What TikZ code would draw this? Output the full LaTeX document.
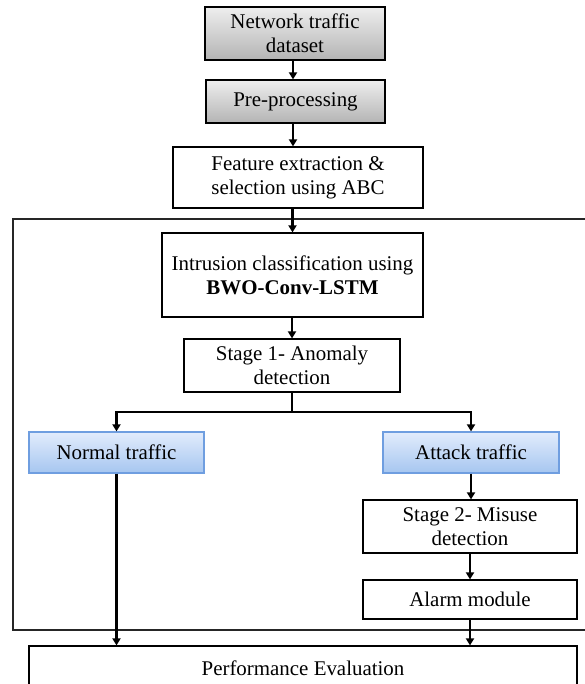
\documentclass[tikz,border=0pt]{standalone}
\usepackage{fontspec}
\setmainfont{Liberation Serif}
\usetikzlibrary{arrows.meta,shadows}
\definecolor{grtop}{HTML}{EEEEEE}
\definecolor{grbot}{HTML}{B4B4B4}
\definecolor{bltop}{HTML}{E2ECFC}
\definecolor{blbot}{HTML}{A6C6F0}
\definecolor{blline}{HTML}{6F9EE0}
\tikzset{
  box/.style={draw=black, line width=1.2bp, align=center, inner sep=0pt,
    fill=white, font=\fontsize{21}{24}\selectfont,
    drop shadow={shadow xshift=1.4bp, shadow yshift=-1.4bp, fill=black!45, opacity=0.8}},
  graybox/.style={box, top color=grtop, bottom color=grbot},
  bluebox/.style={box, draw=blline, top color=bltop, bottom color=blbot},
  arr/.style={line width=2.2bp, -{Triangle[length=7bp,width=8bp]}},
  ln/.style={line width=2.2bp}
}
\begin{document}
\begin{tikzpicture}[x=1bp,y=-1bp]
\useasboundingbox (0,0) rectangle (585,684);
\clip (0,0) rectangle (585,684);
% outer frame
\draw[line width=1.3bp, black!85] (13,219) rectangle (600,630);
\node[graybox, minimum width=180bp, minimum height=53bp] (b1) at (295,33.5) {Network traffic\\dataset};
\node[graybox, minimum width=179bp, minimum height=43bp] (b2) at (295.5,101.5) {Pre-processing};
\node[box, minimum width=250bp, minimum height=61bp] (b3) at (298,177.5) {Feature extraction \&\\selection using ABC};
\node[box, minimum width=261bp, minimum height=84bp] (b4) at (292.5,275) {Intrusion classification using\\\textbf{BWO-Conv-LSTM}};
\node[box, minimum width=216bp, minimum height=53bp] (b5) at (292,365.5) {Stage 1- Anomaly\\detection};
\node[bluebox, minimum width=175bp, minimum height=41bp] (nt) at (116.5,452.5) {Normal traffic};
\node[bluebox, minimum width=176bp, minimum height=41bp] (at) at (471,452.5) {Attack traffic};
\node[box, minimum width=214bp, minimum height=53bp] (s2) at (470,526.5) {Stage 2- Misuse\\detection};
\node[box, minimum width=214bp, minimum height=39bp] (al) at (470,599.5) {Alarm module};
\node[box, minimum width=548bp, minimum height=44bp] (pe) at (303,668) {Performance Evaluation};
% connectors
\draw[arr] (b1.south -| 293,0) -- (b2.north -| 293,0);
\draw[arr] (b2.south -| 293,0) -- (b3.north -| 293,0);
\draw[arr] (b3.south -| b4) -- (b4.north);
\draw[arr] (b4.south -| b5) -- (b5.north);
\draw[ln] (b5.south) -- ++(0,19) coordinate (br);
\draw[arr] (br) -| (nt.north);
\draw[arr] (br) -| (at.north);
\draw[arr] (nt.south) -- (nt.south |- pe.north);
\draw[arr] (at.south) -- (s2.north -| at.south);
\draw[arr] (s2.south -| al) -- (al.north);
\draw[arr] (al.south) -- (al.south |- pe.north);
\end{tikzpicture}
\end{document}
